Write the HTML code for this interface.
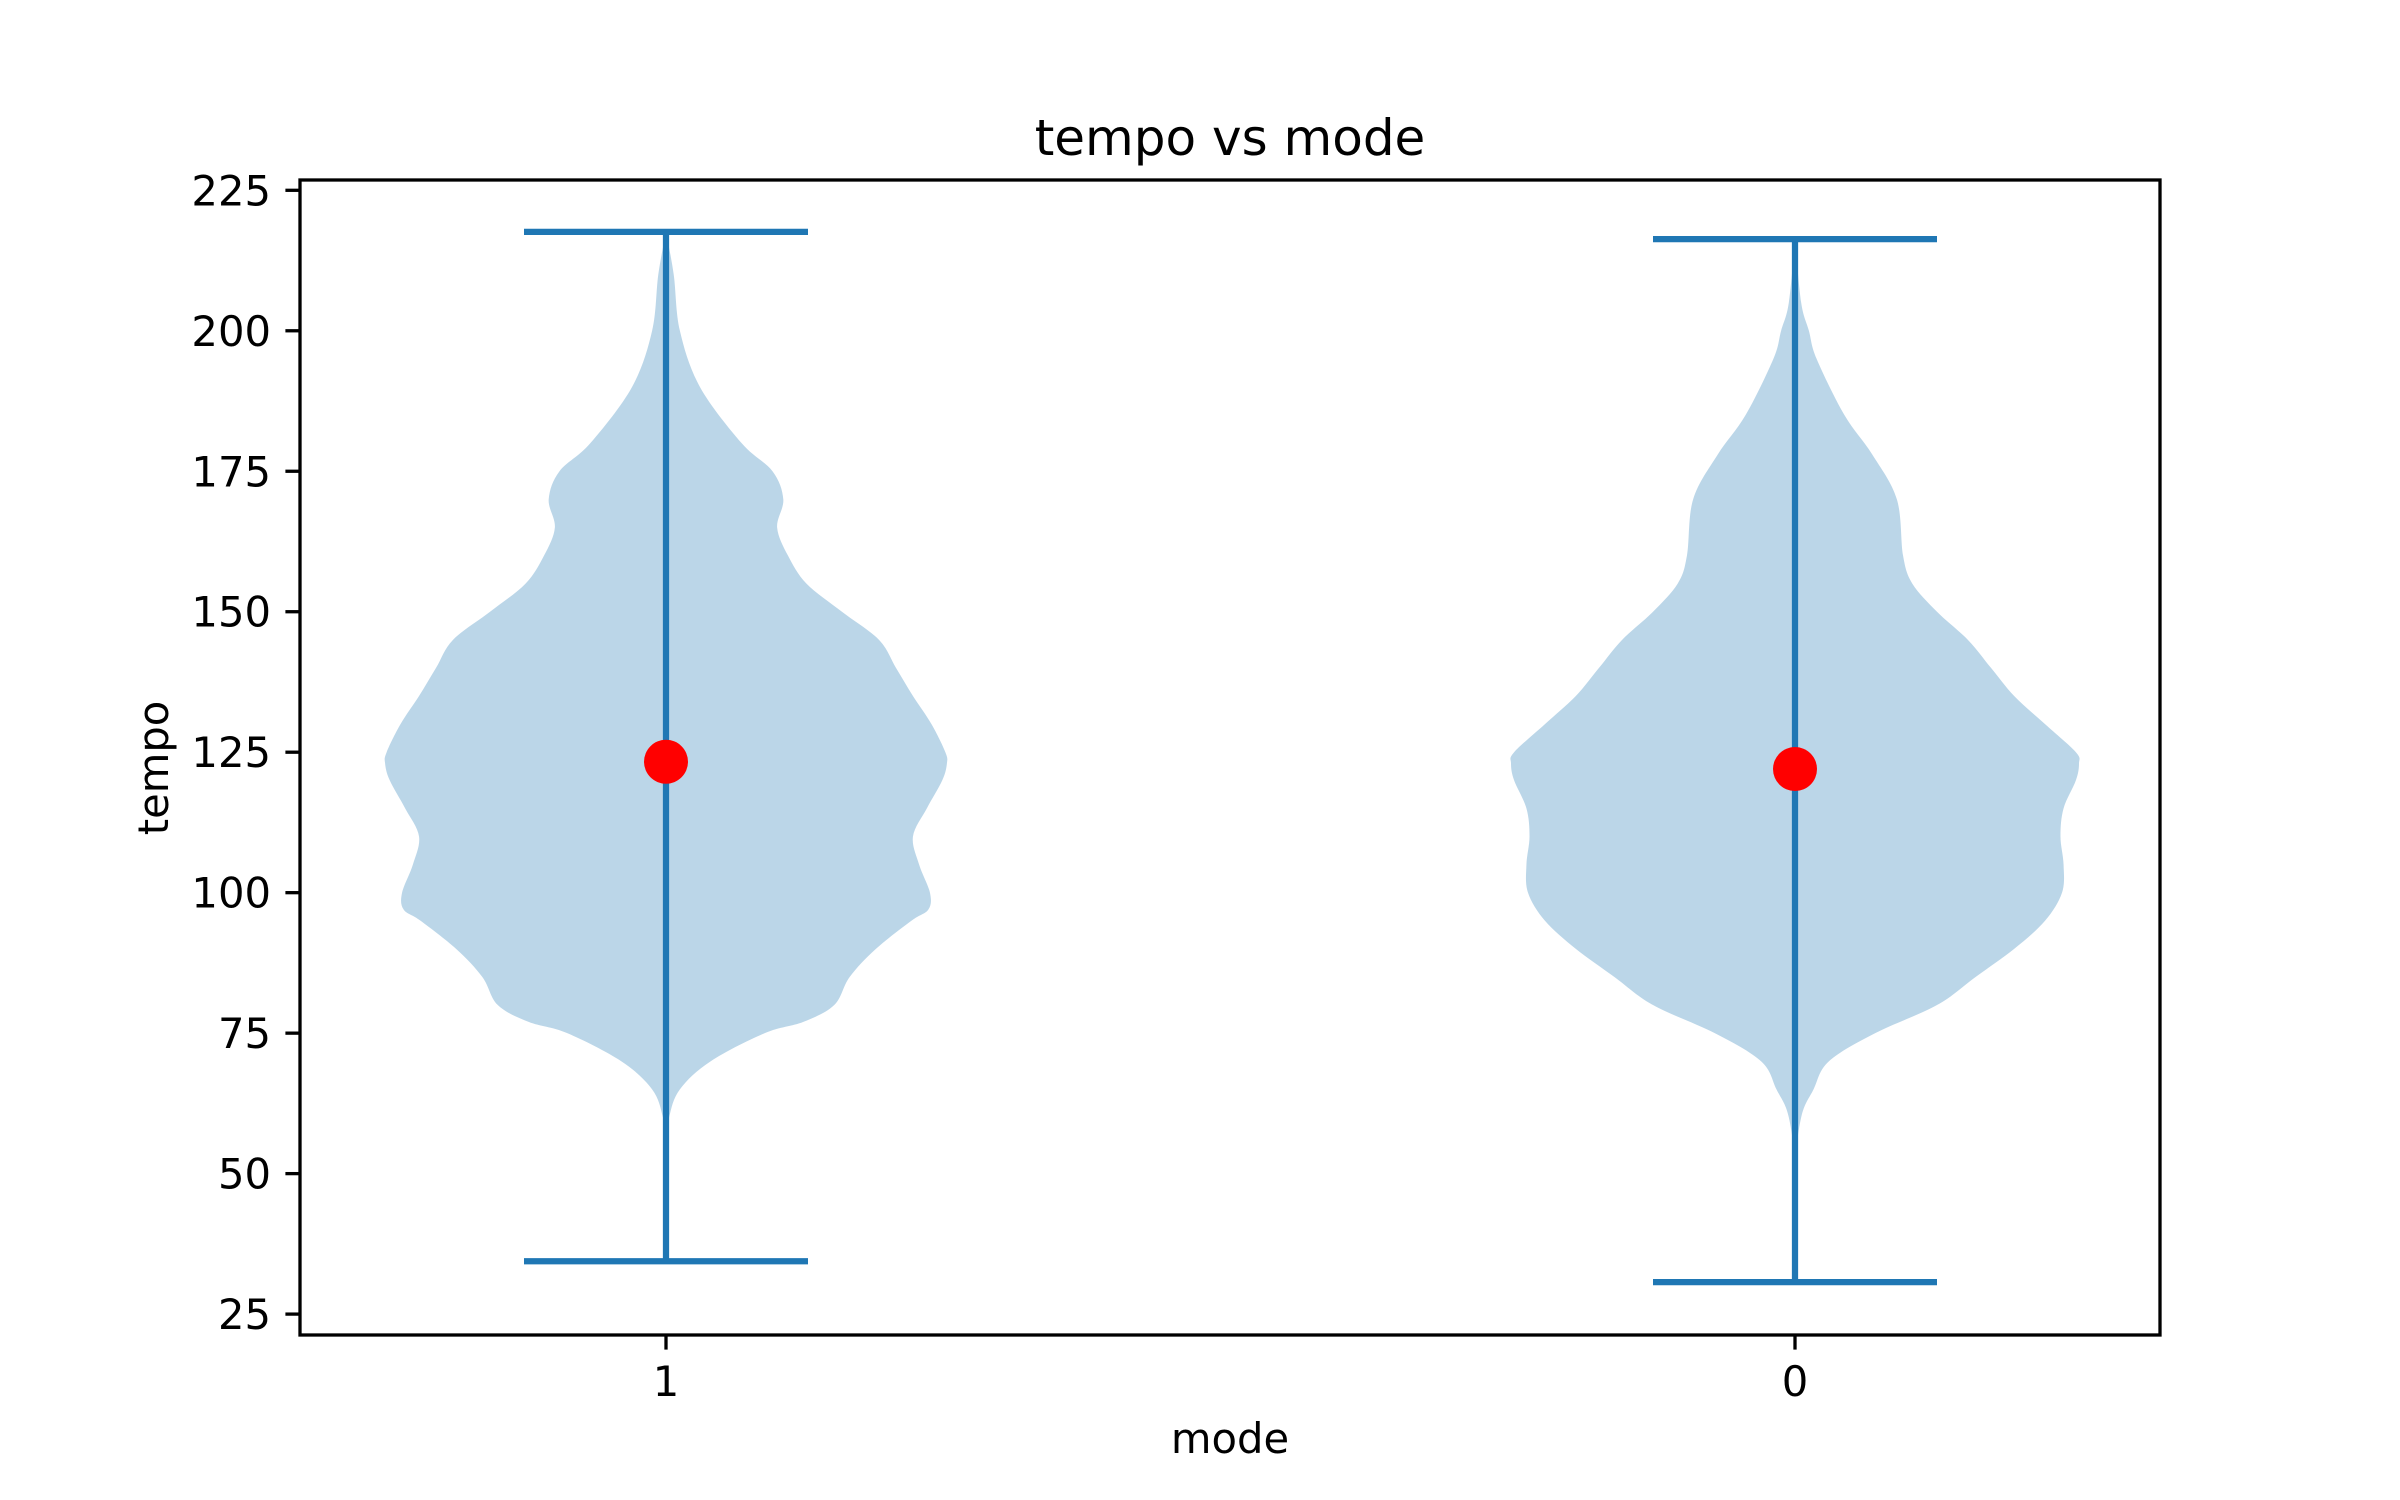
<!DOCTYPE html>
<html><head><meta charset="utf-8"><style>
html,body{margin:0;padding:0;background:#fff}
svg{display:block;font-family:"DejaVu Sans","Liberation Sans",sans-serif}
</style></head><body>
<svg id="chart" width="2400" height="1500" viewBox="0 0 2400 1500" xmlns="http://www.w3.org/2000/svg">
<rect width="2400" height="1500" fill="#fff"/>
<g id="plot"></g>
<rect x="300" y="180" width="1860" height="1155" fill="none" stroke="#000" stroke-width="3.3"/>
<g id="axes"></g>
<text x="1230" y="155" font-size="50" text-anchor="middle">tempo vs mode</text>
<text x="1230" y="1453" font-size="41.7" text-anchor="middle">mode</text>
<text transform="translate(168,768) rotate(-90)" font-size="41.7" text-anchor="middle">tempo</text>
</svg>
<script>
const categories = ["1", "0"];
const positions = [1, 2];
const yTicks = [25, 50, 75, 100, 125, 150, 175, 200, 225];
const whiskerMin = [34.4, 30.7];
const whiskerMax = [217.6, 216.3];
const means = [123.3, 122.0];
const kdeTempo1 = [217.6,210,200,190,180,175,170,165,160,155,150,145,140,135,130,125,123,120,115,110,105,100,97,95,90,85,80,77,75,70,65,60,55,34.4];
const kdeDens1 = [0,5,9,22,49,69,76,72,79,91,114,138,149,160,172,181,182,179,169,160,164,171,170,159,136,119,109,89,64,29,9,2,0,0];
const kdeTempo2 = [216.3,205,200,195,185,178,170,160,155,150,145,140,135,130,125,123,120,115,110,105,100,95,90,85,80,75,70,65,60,50,30.7];
const kdeDens2 = [0,4,9,14,32,50,66,70,76,92,112,127,142,162,182,184,182,174,172,174,173,162,142,117,92,52,22,12,4,0,0];

const NS = "http://www.w3.org/2000/svg";
const plot = document.getElementById('plot');
const axes = document.getElementById('axes');
function yS(v){ return 190.3 + (225 - v) * 5.619; }
function xS(p){ return 666 + (p - 1) * 1129; }
function wS(d){ return d / 184 * 284; }
function mk(tag, attrs, parent){
  const e = document.createElementNS(NS, tag);
  for (const k in attrs) e.setAttribute(k, attrs[k]);
  parent.appendChild(e); return e;
}
function smooth(pts){
  let d = `M${pts[0][0]},${pts[0][1]}`;
  for (let i = 0; i < pts.length - 1; i++){
    const p0 = pts[Math.max(0,i-1)], p1 = pts[i], p2 = pts[i+1], p3 = pts[Math.min(pts.length-1,i+2)];
    const c1 = [p1[0]+(p2[0]-p0[0])/6, p1[1]+(p2[1]-p0[1])/6];
    const c2 = [p2[0]-(p3[0]-p1[0])/6, p2[1]-(p3[1]-p1[1])/6];
    d += ` C${c1[0]},${c1[1]} ${c2[0]},${c2[1]} ${p2[0]},${p2[1]}`;
  }
  return d;
}
const kdeT = [kdeTempo1, kdeTempo2], kdeD = [kdeDens1, kdeDens2];
positions.forEach((p, i) => {
  const cx = xS(p);
  const left = kdeT[i].map((t, j) => [cx - wS(kdeD[i][j]), yS(t)]);
  const right = kdeT[i].map((t, j) => [cx + wS(kdeD[i][j]), yS(t)]).reverse();
  let d = smooth(left) + ' L' + smooth(right).slice(1) + ' Z';
  const body = mk('path', {d: d, fill: '#1f77b4', 'fill-opacity': 0.3, stroke: 'none'}, plot);
  
  
  const bar = mk('line', {x1: cx, x2: cx, y1: yS(whiskerMin[i]), y2: yS(whiskerMax[i]), stroke: '#1f77b4', 'stroke-width': 6.25}, plot);
  
  
  [whiskerMin[i], whiskerMax[i]].forEach((v, k) => {
    const cap = mk('line', {x1: cx - 142, x2: cx + 142, y1: yS(v), y2: yS(v), stroke: '#1f77b4', 'stroke-width': 6.25}, plot);
    
    
  });
  const dot = mk('circle', {cx: cx, cy: yS(means[i]), r: 22, fill: '#ff0000'}, plot);
  
  
  const tk = mk('line', {x1: cx, x2: cx, y1: 1335, y2: 1349.6, stroke: '#000', 'stroke-width': 3.3}, axes);
  
  
  const lb = mk('text', {x: cx, y: 1396, 'font-size': 41.7, 'text-anchor': 'middle'}, axes);
  lb.textContent = categories[i];
  
  
});
yTicks.forEach(v => {
  const y = yS(v);
  const tk = mk('line', {x1: 285.4, x2: 300, y1: y, y2: y, stroke: '#000', 'stroke-width': 3.3}, axes);
  
  
  const lb = mk('text', {x: 271, y: y + 15, 'font-size': 41.7, 'text-anchor': 'end'}, axes);
  lb.textContent = v;
  
  
});
</script>
</body></html>
